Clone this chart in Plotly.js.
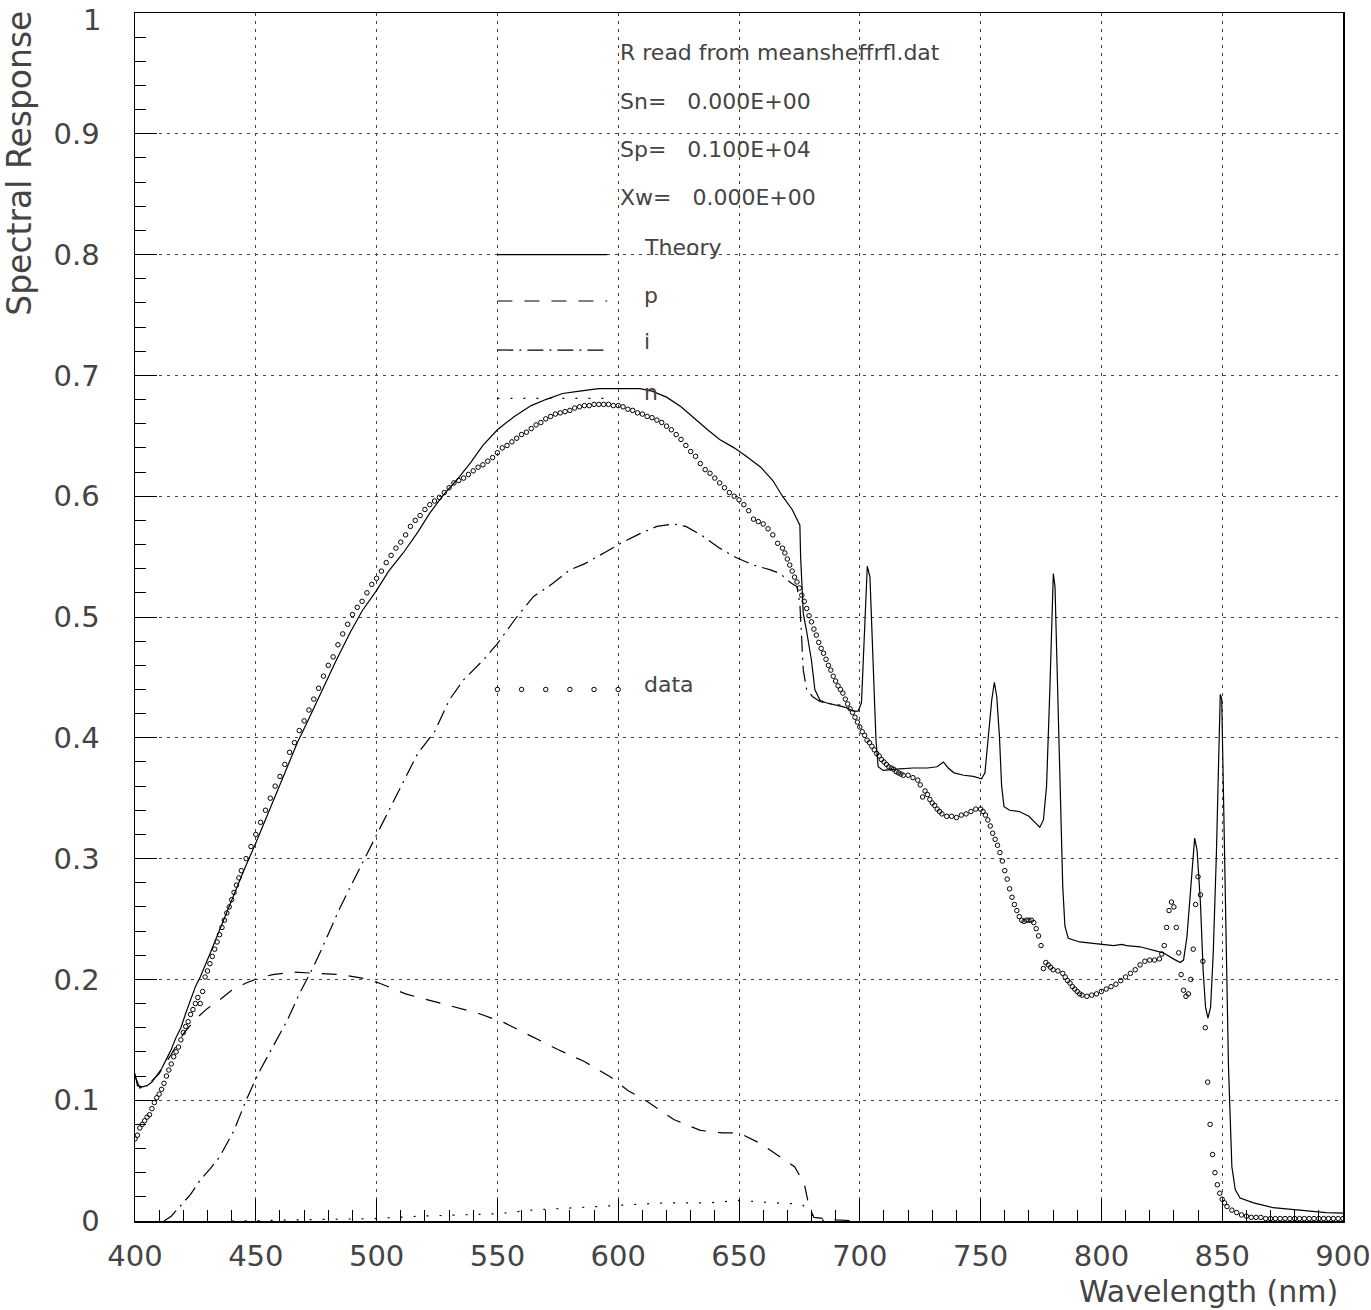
<!DOCTYPE html>
<html>
<head>
<meta charset="utf-8">
<script src="https://cdn.plot.ly/plotly-3.0.1.min.js"></script>
<style>html,body{margin:0;padding:0;background:#fff;}#chart{width:1371px;height:1310px;}</style>
</head>
<body>
<div id="chart"></div>
<script>
// ---- data ----
const theoryX = [400,401,403,405,407,409,411,413,415,417,419,421,423,425,427,429,431,434,437,440,445,450,455,458,463,467,472,478,483,489,494,500,505,511,517,522,528,533,539,544,550,557,564,570,577,584,592,600,609,614,620,626,631,637,642,648,653,659,664,668,672,674,675.2,675.5,676,676.6,678,680,681.4,683.5,686,690,694.5,697.3,699.3,700.7,702.1,703.1,704.2,705.3,706.7,707.6,709.7,715,722,728,732,734.6,736.6,739,743,747,750.4,751.8,753.2,754.6,755.7,756.7,757.8,758.7,759.7,762,766,770,773,774.5,776,777.3,778.7,780.1,780.8,782.2,783.5,784,784.9,786.3,791,799,805,808.4,810.4,816,821.5,825.6,829.8,832.6,834,835.4,836.8,837.9,838.6,839.6,841,842.1,843.1,844.1,845.2,846.3,847.6,848.6,849.2,849.8,850.5,851.6,852.6,854,855.4,857.4,863,871,882,893,900];
const theoryY = [0.122,0.112,0.111,0.112,0.115,0.120,0.126,0.134,0.142,0.152,0.160,0.172,0.183,0.194,0.202,0.211,0.221,0.236,0.251,0.266,0.290,0.313,0.337,0.353,0.377,0.395,0.416,0.442,0.463,0.487,0.505,0.522,0.538,0.553,0.570,0.586,0.602,0.613,0.628,0.642,0.655,0.666,0.675,0.680,0.685,0.687,0.689,0.689,0.689,0.687,0.682,0.674,0.665,0.655,0.647,0.640,0.633,0.624,0.613,0.600,0.589,0.580,0.576,0.550,0.525,0.503,0.488,0.464,0.440,0.431,0.429,0.427,0.425,0.422,0.422,0.429,0.498,0.542,0.533,0.470,0.398,0.376,0.373,0.374,0.375,0.375,0.376,0.380,0.375,0.371,0.369,0.368,0.366,0.371,0.401,0.431,0.446,0.434,0.401,0.360,0.343,0.340,0.339,0.335,0.329,0.326,0.332,0.360,0.442,0.536,0.525,0.415,0.318,0.277,0.244,0.234,0.231,0.229,0.228,0.229,0.228,0.227,0.224,0.222,0.217,0.214,0.216,0.235,0.271,0.304,0.317,0.307,0.263,0.208,0.177,0.168,0.177,0.222,0.304,0.387,0.436,0.432,0.349,0.211,0.128,0.045,0.026,0.019,0.015,0.011,0.009,0.007,0.0066];

const pX = [400,402,405,410,415,420,425,430,435,440,446,451,457,466,475,485,494,501,512,527,542,553,564,575,586,597,604,612,623,634,643,650,659,669,673,677,679,681,690,700];
const pY = [0.120,0.110,0.112,0.122,0.138,0.155,0.167,0.176,0.183,0.191,0.197,0.201,0.204,0.206,0.205,0.204,0.201,0.197,0.188,0.180,0.172,0.164,0.153,0.142,0.132,0.119,0.108,0.099,0.084,0.075,0.073,0.073,0.064,0.050,0.045,0.031,0.012,0.003,0.001,0.000];

const iX = [412,415,419,423,427,431,435,441,446,451,457,463,468,474,477,481,485,490,495,500,504,508,512,517,524,530,536,544,550,558,565,573,580,586,595,601,609,616,623,628,635,642,649,656,663,667,671,674,675.2,675.9,676.6,678,680.5,683.5,688,692];
const iY = [0.000,0.004,0.013,0.022,0.034,0.043,0.053,0.075,0.100,0.122,0.144,0.166,0.188,0.211,0.224,0.242,0.260,0.280,0.300,0.320,0.336,0.351,0.368,0.387,0.405,0.431,0.448,0.464,0.478,0.500,0.517,0.528,0.539,0.544,0.554,0.561,0.569,0.575,0.577,0.575,0.567,0.557,0.549,0.543,0.539,0.536,0.529,0.525,0.511,0.484,0.456,0.440,0.434,0.430,0.428,0.427];

const nX = [440,481,499,518,536,550,564,582,600,619,637,650,665,676,680,682,690];
const nY = [0.000,0.001,0.002,0.004,0.005,0.006,0.009,0.011,0.013,0.015,0.015,0.017,0.015,0.014,0.006,0.001,0.000];

const dataX = [400,401,402,403,404,405,406,407,408,409,410,411,412,413,414,415,416,417,418,419,420,421,422,423,424,425,426,427,428,429,430,431,432,433,434,435,436,437,438,439,440,441,442,443,444,446,448,450,452,454,456,458,460,462,464,466,468,470,472,474,476,478,480,482,484,486,488,490,492,494,496,498,500,502,504,506,508,510,512,514,516,518,520,522,524,526,528,530,532,534,536,538,540,542,544,546,548,550,552,554,556,558,560,562,564,566,568,570,572,574,576,578,580,582,584,586,588,590,592,594,596,598,600,602,604,606,608,610,612,614,616,618,620,622,624,626,628,630,632,634,636,638,640,642,644,646,648,650,652,654,656,658,660,662,664,666,668,669,670,671,672,673,674,675,676,677,678,679,680,681,682,683,684,685,686,687,688,689,690,691,692,693,694,695,696,697,698,699,700,701,702,703,704,705,706,707,708,709,710,711,712,713,714,715,716,717,718,720,722,724,725,726,727,728,729,730,731,732,733,734,736,738,740,742,744,746,748,750,751,752,753,754,755,756,757,758,759,760,761,762,763,764,765,766,767,768,769,770,771,772,773,774,775,776,777,778,779,780,782,784,785,786,787,788,789,790,791,792,794,796,798,800,802,804,806,808,810,812,814,816,818,820,822,824,825,826,827,828,829,830,831,832,833,834,835,836,837,838,839,840,841,842,843,844,845,846,847,848,849,850,851,852,854,856,858,860,862,864,866,868,870,872,874,876,878,880,882,884,886,888,890,892,894,896,898,900];
const dataY = [0.068,0.071,0.077,0.080,0.083,0.086,0.088,0.093,0.098,0.102,0.105,0.109,0.114,0.120,0.125,0.130,0.136,0.140,0.144,0.150,0.156,0.161,0.165,0.171,0.175,0.180,0.185,0.180,0.190,0.202,0.207,0.213,0.219,0.225,0.231,0.237,0.243,0.249,0.255,0.260,0.266,0.272,0.278,0.284,0.290,0.300,0.310,0.320,0.330,0.340,0.350,0.360,0.368,0.378,0.388,0.396,0.406,0.414,0.423,0.432,0.441,0.451,0.460,0.467,0.477,0.486,0.494,0.502,0.508,0.513,0.520,0.527,0.532,0.538,0.545,0.551,0.557,0.562,0.568,0.575,0.580,0.584,0.589,0.593,0.596,0.599,0.603,0.607,0.611,0.613,0.615,0.618,0.621,0.624,0.626,0.629,0.632,0.636,0.640,0.642,0.645,0.648,0.651,0.653,0.656,0.659,0.661,0.664,0.666,0.668,0.669,0.670,0.671,0.673,0.674,0.675,0.675,0.676,0.676,0.676,0.676,0.675,0.675,0.674,0.672,0.671,0.669,0.668,0.666,0.665,0.663,0.661,0.658,0.655,0.651,0.647,0.642,0.637,0.633,0.627,0.622,0.619,0.615,0.611,0.607,0.603,0.600,0.597,0.593,0.588,0.581,0.579,0.577,0.573,0.568,0.561,0.557,0.553,0.548,0.543,0.538,0.533,0.529,0.524,0.518,0.513,0.507,0.501,0.496,0.490,0.485,0.479,0.474,0.470,0.465,0.460,0.456,0.451,0.447,0.443,0.440,0.437,0.432,0.428,0.424,0.421,0.417,0.413,0.409,0.405,0.402,0.398,0.396,0.393,0.390,0.387,0.385,0.382,0.380,0.378,0.376,0.375,0.374,0.372,0.371,0.370,0.369,0.369,0.367,0.365,0.361,0.351,0.356,0.353,0.349,0.346,0.344,0.341,0.339,0.337,0.335,0.335,0.334,0.336,0.337,0.339,0.341,0.341,0.339,0.336,0.332,0.327,0.321,0.316,0.311,0.305,0.298,0.290,0.283,0.275,0.268,0.262,0.257,0.252,0.249,0.248,0.249,0.249,0.249,0.247,0.242,0.236,0.228,0.209,0.214,0.212,0.210,0.208,0.207,0.205,0.202,0.199,0.197,0.194,0.192,0.190,0.188,0.187,0.186,0.187,0.188,0.190,0.192,0.194,0.196,0.199,0.202,0.205,0.208,0.212,0.215,0.216,0.216,0.217,0.221,0.228,0.243,0.257,0.264,0.260,0.243,0.222,0.204,0.191,0.186,0.188,0.200,0.225,0.262,0.285,0.270,0.215,0.160,0.115,0.080,0.055,0.040,0.030,0.023,0.018,0.015,0.012,0.009,0.007,0.005,0.004,0.003,0.003,0.003,0.002,0.002,0.002,0.002,0.002,0.002,0.002,0.002,0.002,0.002,0.002,0.002,0.002,0.002,0.002,0.002,0.002,0.002,0.002];

const xTickVals = [400,450,500,550,600,650,700,750,800,850,900];
const xTickText = ["400","450","500","550","600","650","700","750","800","850","900"];
// the top label "1" is drawn as an annotation so that it stays inside the page
const yTickVals = [0,0.1,0.2,0.3,0.4,0.5,0.6,0.7,0.8,0.9,1];
const yTickText = ["0","0.1","0.2","0.3","0.4","0.5","0.6","0.7","0.8","0.9",""];
const yTopLabel = "1";

const infoLines = ["R read from meansheffrfl.dat", "Sn=\u00a0\u00a0\u00a00.000E+00", "Sp=\u00a0\u00a0\u00a00.100E+04", "Xw=\u00a0\u00a0\u00a00.000E+00"];
const infoY = [0.967, 0.927, 0.887, 0.847];
const legendNames = ["Theory", "p", "i", "n", "data"];
const legendTextY = [0.806, 0.766, 0.728, 0.686, 0.4445];
const legendKeyY = [0.800, 0.7616, 0.721, 0.681];
const legendKeyX = [550, 595.5];
const legendDataX = [550, 560, 570, 580, 590, 600];
const legendDataY = [0.440, 0.440, 0.440, 0.440, 0.440, 0.440];

// ---- styling ----
const FONT = '"DejaVu Sans ExtraLight", "DejaVu Sans", sans-serif';
const TXT = '#444';
const dashes = ['solid', '15px,12px', '16px,6px,2px,6px', '2px,11px'];

const traces = [
  {x: theoryX, y: theoryY, mode: 'lines', line: {color: 'black', width: 1.2, dash: dashes[0]}},
  {x: pX, y: pY, mode: 'lines', line: {color: 'black', width: 1.2, dash: dashes[1]}},
  {x: iX, y: iY, mode: 'lines', line: {color: 'black', width: 1.2, dash: dashes[2]}},
  {x: nX, y: nY, mode: 'lines', line: {color: 'black', width: 1.2, dash: dashes[3]}},
  {x: dataX, y: dataY, mode: 'markers', marker: {symbol: 'circle-open', size: 4.5, color: 'black', line: {width: 1, color: 'black'}}},
  {x: legendDataX, y: legendDataY, mode: 'markers', marker: {symbol: 'circle-open', size: 4.5, color: 'black', line: {width: 1, color: 'black'}}}
];

const shapes = legendKeyY.map((yy, k) => ({
  type: 'line', xref: 'x', yref: 'y', x0: legendKeyX[0], x1: legendKeyX[1], y0: yy, y1: yy,
  line: {color: 'black', width: 1.2, dash: dashes[k]}
}));

const annotations = [];
infoLines.forEach((t, k) => annotations.push({
  text: t, xref: 'x', yref: 'y', x: 600, y: infoY[k], xanchor: 'left', yanchor: 'middle',
  showarrow: false, font: {family: FONT, size: 22, color: TXT}
}));
legendNames.forEach((t, k) => annotations.push({
  text: t, xref: 'x', yref: 'y', x: 610, y: legendTextY[k], xanchor: 'left', yanchor: 'middle',
  showarrow: false, font: {family: FONT, size: 22, color: TXT}
}));
annotations.push({
  text: yTopLabel, xref: 'paper', yref: 'paper', x: -0.0265, y: 1 + 12 / 1208,
  xanchor: 'right', yanchor: 'top', showarrow: false,
  font: {family: FONT, size: 29, color: TXT}
});
annotations.push({
  text: 'Spectral Response', xref: 'paper', yref: 'paper', x: -0.0952, y: 0.876,
  xanchor: 'center', yanchor: 'middle', textangle: -90, showarrow: false,
  font: {family: FONT, size: 33, color: TXT}
});
annotations.push({
  text: 'Wavelength (nm)', xref: 'paper', yref: 'paper', x: 0.9975, y: -0.0587,
  xanchor: 'right', yanchor: 'middle', showarrow: false,
  font: {family: FONT, size: 30, color: TXT}
});

const axisCommon = {
  ticks: 'inside', ticklen: 22, tickwidth: 1, tickcolor: 'black',
  showgrid: true, gridcolor: '#444', gridwidth: 1, griddash: '3px,5px',
  showline: true, linecolor: 'black', linewidth: 1.5, mirror: true, zeroline: false,
  tickfont: {family: FONT, size: 29, color: TXT}, tickmode: 'array',
  ticklabeloverflow: 'allow'
};

const layout = {
  width: 1371, height: 1310,
  margin: {l: 135, r: 28, t: 13, b: 89, pad: 0},
  paper_bgcolor: 'white', plot_bgcolor: 'white',
  showlegend: false,
  xaxis: Object.assign({}, axisCommon, {
    range: [400, 900], tickvals: xTickVals, ticktext: xTickText, ticklabelstandoff: 9,
    minor: {ticks: 'inside', ticklen: 11, tickwidth: 1, tickcolor: 'black', dtick: 10, tick0: 400, showgrid: false}
  }),
  yaxis: Object.assign({}, axisCommon, {
    range: [0, 1], tickvals: yTickVals, ticktext: yTickText, ticklabelstandoff: 28,
    minor: {ticks: 'inside', ticklen: 11, tickwidth: 1, tickcolor: 'black', dtick: 0.02, tick0: 0, showgrid: false}
  }),
  shapes: shapes,
  annotations: annotations
};

Plotly.newPlot('chart', traces, layout, {displayModeBar: false, staticPlot: true});
</script>
</body>
</html>
